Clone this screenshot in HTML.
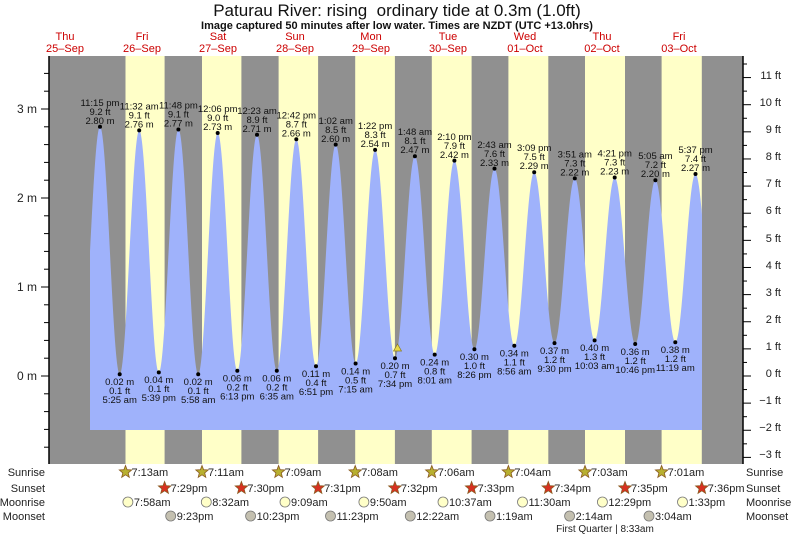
<!DOCTYPE html>
<html><head><meta charset="utf-8"><style>
body{margin:0;background:#fff;}
svg{display:block;font-family:"Liberation Sans",sans-serif;}
.t{font-size:9.5px;fill:#111;text-anchor:middle}
.d{font-size:11px;fill:#c00;text-anchor:middle}
</style></head><body>
<svg id="s" width="793" height="537" viewBox="0 0 793 537">
<text x="397" y="16" text-anchor="middle" font-size="17" fill="#111">Paturau River: rising&#160; ordinary tide at 0.3m (1.0ft)</text>
<text x="397" y="29" text-anchor="middle" font-size="11" font-weight="bold" fill="#111">Image captured 50 minutes after low water. Times are NZDT (UTC +13.0hrs)</text>
<g class="d">
<text x="65" y="40" class="d">Thu</text><text x="65" y="52" class="d">25–Sep</text>
<text x="142" y="40" class="d">Fri</text><text x="142" y="52" class="d">26–Sep</text>
<text x="218" y="40" class="d">Sat</text><text x="218" y="52" class="d">27–Sep</text>
<text x="295" y="40" class="d">Sun</text><text x="295" y="52" class="d">28–Sep</text>
<text x="371" y="40" class="d">Mon</text><text x="371" y="52" class="d">29–Sep</text>
<text x="448" y="40" class="d">Tue</text><text x="448" y="52" class="d">30–Sep</text>
<text x="525" y="40" class="d">Wed</text><text x="525" y="52" class="d">01–Oct</text>
<text x="602" y="40" class="d">Thu</text><text x="602" y="52" class="d">02–Oct</text>
<text x="679" y="40" class="d">Fri</text><text x="679" y="52" class="d">03–Oct</text>
</g>
<rect x="49" y="56" width="694" height="408" fill="#909090"/>
<g transform="translate(-1.5,0)">
<g fill="#ffffc8">
<rect x="127" y="56" width="39.1" height="408"/>
<rect x="203.5" y="56" width="39.4" height="408"/>
<rect x="280.1" y="56" width="39.5" height="408"/>
<rect x="356.7" y="56" width="39.7" height="408"/>
<rect x="433.3" y="56" width="39.8" height="408"/>
<rect x="509.9" y="56" width="39.9" height="408"/>
<rect x="586.5" y="56" width="40" height="408"/>
<rect x="663.1" y="56" width="40.2" height="408"/>
</g>
<path id="tide" fill="#9fb2fb" d=""/>
<g fill="#000">
<circle cx="101.5" cy="126.8" r="2"/><circle cx="140.7" cy="130.4" r="2"/><circle cx="179.9" cy="129.5" r="2"/><circle cx="219.2" cy="133" r="2"/><circle cx="258.5" cy="134.8" r="2"/><circle cx="297.8" cy="139.3" r="2"/><circle cx="337.2" cy="144.6" r="2"/><circle cx="376.6" cy="149.9" r="2"/><circle cx="416.4" cy="156.2" r="2"/><circle cx="455.9" cy="160.6" r="2"/><circle cx="496" cy="168.6" r="2"/><circle cx="535.7" cy="172.2" r="2"/><circle cx="576.3" cy="178.4" r="2"/><circle cx="616.2" cy="177.5" r="2"/><circle cx="656.9" cy="180.2" r="2"/><circle cx="697" cy="174" r="2"/>
<circle cx="121.2" cy="374.2" r="2"/><circle cx="160.3" cy="372.4" r="2"/><circle cx="199.7" cy="374.2" r="2"/><circle cx="238.8" cy="370.7" r="2"/><circle cx="278.3" cy="370.7" r="2"/><circle cx="317.5" cy="366.2" r="2"/><circle cx="357.1" cy="363.5" r="2"/><circle cx="396.5" cy="358.2" r="2"/><circle cx="436.2" cy="354.6" r="2"/><circle cx="475.9" cy="349.3" r="2"/><circle cx="515.8" cy="345.7" r="2"/><circle cx="556" cy="343.1" r="2"/><circle cx="596.1" cy="340.4" r="2"/><circle cx="636.7" cy="344" r="2"/><circle cx="676.8" cy="342.2" r="2"/>
</g>
<polygon points="399,344 395,351 403,351" fill="#e8d84a" stroke="#887a20" stroke-width="0.7"/>
<g class="t">
<text x="101.5" y="106">11:15 pm</text><text x="101.5" y="115">9.2 ft</text><text x="101.5" y="124">2.80 m</text>
<text x="140.7" y="109.5">11:32 am</text><text x="140.7" y="118.5">9.1 ft</text><text x="140.7" y="127.5">2.76 m</text>
<text x="179.9" y="108.5">11:48 pm</text><text x="179.9" y="117.5">9.1 ft</text><text x="179.9" y="126.5">2.77 m</text>
<text x="219.2" y="112">12:06 pm</text><text x="219.2" y="121">9.0 ft</text><text x="219.2" y="130">2.73 m</text>
<text x="258.5" y="114">12:23 am</text><text x="258.5" y="123">8.9 ft</text><text x="258.5" y="132">2.71 m</text>
<text x="297.8" y="118.5">12:42 pm</text><text x="297.8" y="127.5">8.7 ft</text><text x="297.8" y="136.5">2.66 m</text>
<text x="337.2" y="124">1:02 am</text><text x="337.2" y="133">8.5 ft</text><text x="337.2" y="142">2.60 m</text>
<text x="376.6" y="129">1:22 pm</text><text x="376.6" y="138">8.3 ft</text><text x="376.6" y="147">2.54 m</text>
<text x="416.4" y="135">1:48 am</text><text x="416.4" y="144">8.1 ft</text><text x="416.4" y="153">2.47 m</text>
<text x="455.9" y="140">2:10 pm</text><text x="455.9" y="149">7.9 ft</text><text x="455.9" y="158">2.42 m</text>
<text x="496" y="148">2:43 am</text><text x="496" y="157">7.6 ft</text><text x="496" y="166">2.33 m</text>
<text x="535.7" y="151">3:09 pm</text><text x="535.7" y="160">7.5 ft</text><text x="535.7" y="169">2.29 m</text>
<text x="576.3" y="157.5">3:51 am</text><text x="576.3" y="166.5">7.3 ft</text><text x="576.3" y="175.5">2.22 m</text>
<text x="616.2" y="156.5">4:21 pm</text><text x="616.2" y="165.5">7.3 ft</text><text x="616.2" y="174.5">2.23 m</text>
<text x="656.9" y="159">5:05 am</text><text x="656.9" y="168">7.2 ft</text><text x="656.9" y="177">2.20 m</text>
<text x="697" y="153">5:37 pm</text><text x="697" y="162">7.4 ft</text><text x="697" y="171">2.27 m</text>

<text x="121.2" y="385">0.02 m</text><text x="121.2" y="394">0.1 ft</text><text x="121.2" y="403">5:25 am</text>
<text x="160.3" y="383">0.04 m</text><text x="160.3" y="392">0.1 ft</text><text x="160.3" y="401">5:39 pm</text>
<text x="199.7" y="385">0.02 m</text><text x="199.7" y="394">0.1 ft</text><text x="199.7" y="403">5:58 am</text>
<text x="238.8" y="381.5">0.06 m</text><text x="238.8" y="390.5">0.2 ft</text><text x="238.8" y="399.5">6:13 pm</text>
<text x="278.3" y="381.5">0.06 m</text><text x="278.3" y="390.5">0.2 ft</text><text x="278.3" y="399.5">6:35 am</text>
<text x="317.5" y="377">0.11 m</text><text x="317.5" y="386">0.4 ft</text><text x="317.5" y="395">6:51 pm</text>
<text x="357.1" y="374.5">0.14 m</text><text x="357.1" y="383.5">0.5 ft</text><text x="357.1" y="392.5">7:15 am</text>
<text x="396.5" y="369">0.20 m</text><text x="396.5" y="378">0.7 ft</text><text x="396.5" y="387">7:34 pm</text>
<text x="436.2" y="365.5">0.24 m</text><text x="436.2" y="374.5">0.8 ft</text><text x="436.2" y="383.5">8:01 am</text>
<text x="475.9" y="360">0.30 m</text><text x="475.9" y="369">1.0 ft</text><text x="475.9" y="378">8:26 pm</text>
<text x="515.8" y="356.5">0.34 m</text><text x="515.8" y="365.5">1.1 ft</text><text x="515.8" y="374.5">8:56 am</text>
<text x="556" y="354">0.37 m</text><text x="556" y="363">1.2 ft</text><text x="556" y="372">9:30 pm</text>
<text x="596.1" y="351">0.40 m</text><text x="596.1" y="360">1.3 ft</text><text x="596.1" y="369">10:03 am</text>
<text x="636.7" y="355">0.36 m</text><text x="636.7" y="364">1.2 ft</text><text x="636.7" y="373">10:46 pm</text>
<text x="676.8" y="353">0.38 m</text><text x="676.8" y="362">1.2 ft</text><text x="676.8" y="371">11:19 am</text>
</g>
<g id="stars"></g>
<g font-size="11" fill="#222">
<text x="133" y="476">7:13am</text><text x="209.5" y="476">7:11am</text><text x="286.1" y="476">7:09am</text><text x="362.7" y="476">7:08am</text><text x="439.3" y="476">7:06am</text><text x="515.9" y="476">7:04am</text><text x="592.5" y="476">7:03am</text><text x="669.1" y="476">7:01am</text>
<text x="172.1" y="492">7:29pm</text><text x="248.9" y="492">7:30pm</text><text x="325.6" y="492">7:31pm</text><text x="402.4" y="492">7:32pm</text><text x="479.1" y="492">7:33pm</text><text x="555.8" y="492">7:34pm</text><text x="632.5" y="492">7:35pm</text><text x="709.3" y="492">7:36pm</text>
<text x="135.4" y="506">7:58am</text><text x="213.8" y="506">8:32am</text><text x="292.5" y="506">9:09am</text><text x="371.4" y="506">9:50am</text><text x="450.5" y="506">10:37am</text><text x="530" y="506">11:30am</text><text x="609.9" y="506">12:29pm</text><text x="690" y="506">1:33pm</text>
<text x="178.2" y="520">9:23pm</text><text x="258.1" y="520">10:23pm</text><text x="338" y="520">11:23pm</text><text x="417.8" y="520">12:22am</text><text x="497.5" y="520">1:19am</text><text x="577.1" y="520">2:14am</text><text x="656.5" y="520">3:04am</text>
</g>
<g stroke="#777" stroke-width="0.8">
<circle cx="129.4" cy="502" r="5" fill="#ffffc8"/><circle cx="207.8" cy="502" r="5" fill="#ffffc8"/><circle cx="286.5" cy="502" r="5" fill="#ffffc8"/><circle cx="365.4" cy="502" r="5" fill="#ffffc8"/><circle cx="444.5" cy="502" r="5" fill="#ffffc8"/><circle cx="524" cy="502" r="5" fill="#ffffc8"/><circle cx="603.9" cy="502" r="5" fill="#ffffc8"/><circle cx="684" cy="502" r="5" fill="#ffffc8"/>
<circle cx="172.2" cy="516" r="5" fill="#c4c0b0"/><circle cx="252.1" cy="516" r="5" fill="#c4c0b0"/><circle cx="332" cy="516" r="5" fill="#c4c0b0"/><circle cx="411.8" cy="516" r="5" fill="#c4c0b0"/><circle cx="491.5" cy="516" r="5" fill="#c4c0b0"/><circle cx="571.1" cy="516" r="5" fill="#c4c0b0"/><circle cx="650.5" cy="516" r="5" fill="#c4c0b0"/>
</g>
</g>
<text x="605" y="532" text-anchor="middle" font-size="10" fill="#222">First Quarter | 8:33am</text>
<g font-size="11" fill="#222" text-anchor="end">
<text x="45" y="476">Sunrise</text><text x="45" y="492">Sunset</text><text x="45" y="506">Moonrise</text><text x="45" y="520">Moonset</text>
</g>
<g font-size="11" fill="#222">
<text x="746" y="476">Sunrise</text><text x="746" y="492">Sunset</text><text x="746" y="506">Moonrise</text><text x="746" y="520">Moonset</text>
</g>
<line x1="49" y1="56" x2="49" y2="464" stroke="#000" stroke-width="1.5"/>
<line x1="743" y1="56" x2="743" y2="464" stroke="#000" stroke-width="1.5"/>
<g id="ax" stroke="#000" stroke-width="1"></g>
<g font-size="12" fill="#222" text-anchor="end">
<text x="37" y="113">3 m</text><text x="37" y="202">2 m</text><text x="37" y="291">1 m</text><text x="37" y="380">0 m</text>
</g>
<g font-size="11" fill="#222" text-anchor="end">
<text x="781" y="79">11 ft</text><text x="781" y="106">10 ft</text><text x="781" y="133">9 ft</text><text x="781" y="160">8 ft</text><text x="781" y="187">7 ft</text><text x="781" y="214">6 ft</text><text x="781" y="242">5 ft</text><text x="781" y="269">4 ft</text><text x="781" y="296">3 ft</text><text x="781" y="323">2 ft</text><text x="781" y="350">1 ft</text><text x="781" y="377">0 ft</text><text x="781" y="404">−1 ft</text><text x="781" y="431">−2 ft</text><text x="781" y="458">−3 ft</text>
</g>
</svg>
<script>
(function(){
var m=103.9,k=3.195,Y=function(v){return 376-89*v;};
var ex=[[-6.95,0.05],[-0.75,2.80],[5.417,0.02],[11.533,2.76],[17.65,0.04],[23.8,2.77],[29.97,0.02],[36.1,2.73],[42.22,0.06],[48.38,2.71],[54.58,0.06],[60.7,2.66],[66.85,0.11],[73.03,2.60],[79.25,0.14],[85.37,2.54],[91.57,0.20],[97.8,2.47],[104.02,0.24],[110.17,2.42],[116.43,0.30],[122.72,2.33],[128.93,0.34],[135.15,2.29],[141.5,0.37],[147.85,2.22],[154.05,0.40],[160.35,2.23],[166.77,0.36],[173.08,2.20],[179.32,0.38],[185.62,2.27],[191.9,0.35]];
function h(t){for(var i=0;i<ex.length-1;i++){var a=ex[i],b=ex[i+1];if(t>=a[0]&&t<=b[0]){var f=(t-a[0])/(b[0]-a[0]);return a[1]+(b[1]-a[1])*(1-Math.cos(Math.PI*f))/2;}}return 0;}
var x0=91.5,x1=703.5,d="M"+x0+",430";
for(var x=x0;x<=x1;x+=0.5){var t=(x-m)/k;d+=" L"+x.toFixed(1)+","+Y(h(t)).toFixed(1);}
d+=" L"+x1+",430 Z";document.getElementById("tide").setAttribute("d",d);
var ns="http://www.w3.org/2000/svg";
function star(cx,cy,fill){var p=[];for(var i=0;i<10;i++){var r=i%2?2.8:6.5,a=-Math.PI/2+i*Math.PI/5;p.push((cx+r*Math.cos(a)).toFixed(1)+","+(cy+r*Math.sin(a)).toFixed(1));}var e=document.createElementNS(ns,"polygon");e.setAttribute("points",p.join(" "));e.setAttribute("fill",fill);e.setAttribute("stroke","#8a5a20");e.setAttribute("stroke-width","0.8");document.getElementById("stars").appendChild(e);}
[127,203.5,280.1,356.7,433.3,509.9,586.5,663.1].forEach(function(x){star(x,472,"#b8b030");});
[166.1,242.9,319.6,396.4,473.1,549.8,626.5,703.3].forEach(function(x){star(x,488,"#d83020");});
var ax=document.getElementById("ax");
function ln(a,b,c,dd){var e=document.createElementNS(ns,"line");e.setAttribute("x1",a);e.setAttribute("y1",b);e.setAttribute("x2",c);e.setAttribute("y2",dd);ax.appendChild(e);}
for(var v=-0.8;v<=3.5;v+=0.2){var y=Y(v);if(y<56||y>464)continue;var maj=Math.abs(v-Math.round(v))<0.01;ln(maj?41:44,y,49,y);}
for(var f=-3.5;f<=11.5;f+=0.5){var y=376-27.13*f;if(y<56||y>464)continue;var maj=Math.abs(f-Math.round(f))<0.01;ln(743,y,maj?751:747,y);}
})();
</script>
</body></html>
